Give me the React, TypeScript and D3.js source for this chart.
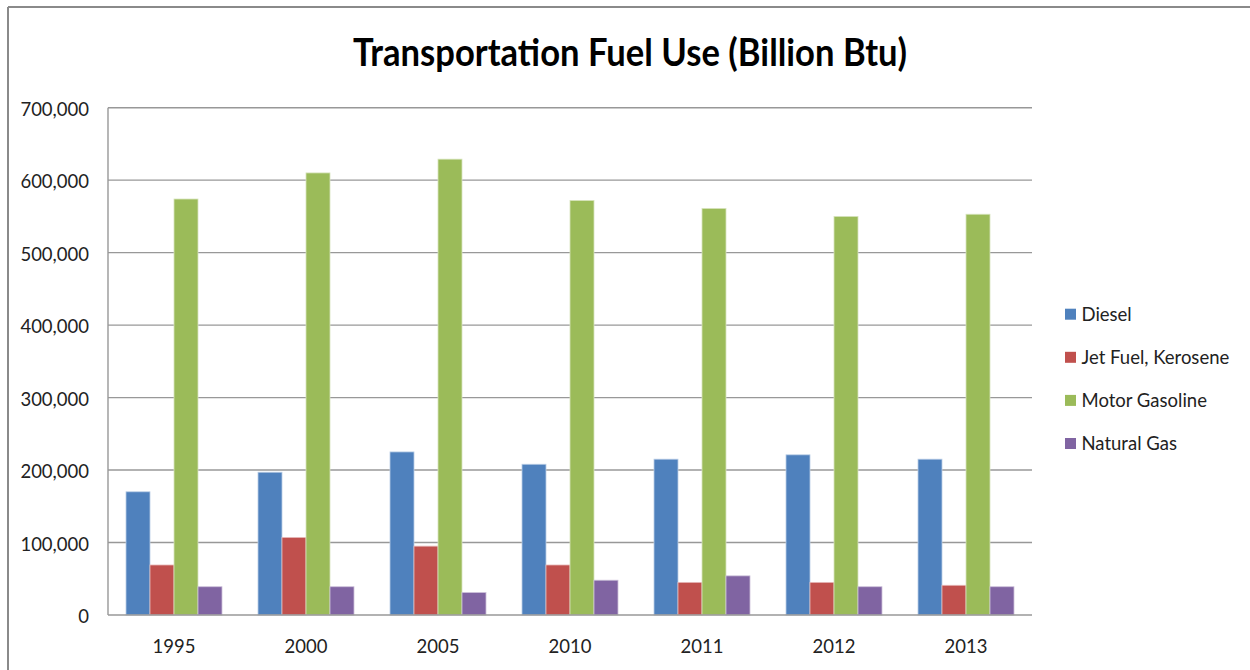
import React from "react";
import * as d3 from "d3";

const years = ["1995", "2000", "2005", "2010", "2011", "2012", "2013"];
const seriesNames = ["Diesel", "Jet Fuel, Kerosene", "Motor Gasoline", "Natural Gas"];
const diesel = [170000, 197000, 225000, 208000, 215000, 221000, 215000];
const jetFuel = [69000, 107000, 95000, 69000, 45000, 45000, 41000];
const gasoline = [574000, 610000, 629000, 572000, 561000, 550000, 553000];
const naturalGas = [39000, 39000, 31000, 48000, 54000, 39000, 39000];
const yTicks = [0, 100000, 200000, 300000, 400000, 500000, 600000, 700000];
const colors = ["#4F81BD", "#C0504D", "#9BBB59", "#8064A2"];
const strokes = ["#B9CDE5", "#E6B9B8", "#D7E4BD", "#CCC1DA"];

const seriesValues = [diesel, jetFuel, gasoline, naturalGas];

export default function App() {
  const W = 1250, H = 670;
  const left = 108, right = 1032, top = 107.7, bottom = 615;
  const x = d3.scaleBand<string>().domain(years).range([left, right]).paddingInner(36 / 132).paddingOuter(18 / 132);
  const xs = d3.scaleBand<string>().domain(seriesNames).range([0, x.bandwidth()]);
  const y = d3.scaleLinear().domain([0, 700000]).range([bottom, top]);
  const fmt = d3.format(",");
  const font = "Lato, 'Open Sans', sans-serif";

  return (
    <svg width={W} height={H} style={{ position: "absolute", left: 0, top: 0, background: "#fff" }} fontFamily={font}>
      <rect x={0} y={0} width={W} height={H} fill="#fff" />
      <line x1={8} y1={7} x2={W} y2={7} stroke="#8a8a8a" strokeWidth={2} />
      <line x1={8} y1={7} x2={8} y2={H} stroke="#8a8a8a" strokeWidth={2} />
      <text x={630} y={66} textAnchor="middle" fontSize={38} fontWeight={700} fill="#000" textLength={554} lengthAdjust="spacingAndGlyphs">
        Transportation Fuel Use (Billion Btu)
      </text>
      {yTicks.map((t) => (
        <g key={t}>
          {t > 0 && <line x1={left} x2={right} y1={y(t)} y2={y(t)} stroke="#989898" strokeWidth={1.4} />}
          <text x={89} y={y(t) + 8} textAnchor="end" fontSize={18.5} fill="#222">{fmt(t)}</text>
        </g>
      ))}
      {years.map((yr, i) => (
        <g key={yr}>
          {seriesValues.map((vals, s) => (
            <rect
              key={s}
              x={(x(yr) as number) + (xs(seriesNames[s]) as number)}
              y={y(vals[i])}
              width={xs.bandwidth()}
              height={bottom - y(vals[i])}
              fill={colors[s]}
              stroke={strokes[s]}
              strokeWidth={0.8}
            />
          ))}
          <text x={(x(yr) as number) + x.bandwidth() / 2} y={653} textAnchor="middle" fontSize={18.5} fill="#222">{yr}</text>
        </g>
      ))}
      <line x1={left} x2={left} y1={top} y2={bottom} stroke="#989898" strokeWidth={1.4} />
      <line x1={left} x2={right} y1={bottom} y2={bottom} stroke="#989898" strokeWidth={1.4} />
      {seriesNames.map((name, s) => (
        <g key={name} transform={`translate(1065, ${320.7 + s * 43.1})`}>
          <rect x={0} y={-12} width={11} height={11} fill={colors[s]} />
          <text x={16.5} y={0} fontSize={18.5} fill="#222">{name}</text>
        </g>
      ))}
    </svg>
  );
}
